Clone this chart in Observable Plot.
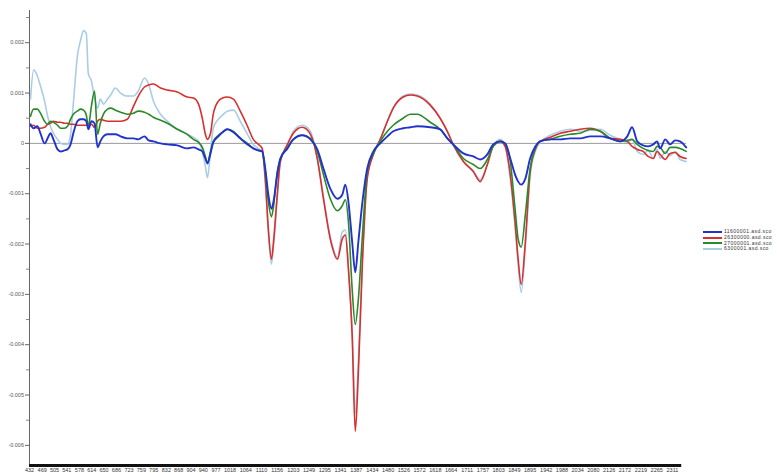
<!DOCTYPE html>
<html>
<head>
<meta charset="utf-8">
<script src="https://cdn.jsdelivr.net/npm/d3@7"></script>
<script src="https://cdn.jsdelivr.net/npm/@observablehq/plot@0.6"></script>
<style>
  html, body { margin: 0; padding: 0; background: #fff; }
  #wrap { position: relative; width: 777px; height: 473px; overflow: hidden; }
  #legend { position: absolute; left: 703px; top: 229px; font-family: "Liberation Sans", Arial, sans-serif; font-size: 5px; letter-spacing: 0.45px; color: #333; line-height: 5.8px; }
  #legend .row { display: flex; align-items: center; height: 5.8px; white-space: nowrap; }
  #legend .sw { width: 19px; height: 2px; margin-right: 2px; }
</style>
</head>
<body>
<div id="wrap"><div id="legend"></div></div>
<script>
const wavelengths = [
  435,444,455,464,476,485,493,502,514,523,
  534,543,552,560,572,581,590,598,604,613,
  622,631,639,648,660,669,683,698,718,736,
  750,768,780,794,815,835,864,893,911,926,
  937,946,952,961,969,984,996,1010,1028,1048,
  1069,1086,1101,1112,1121,1130,1139,1145,1156,1165,
  1186,1203,1229,1253,1273,1291,1311,1332,1346,1355,
  1364,1375,1384,1393,1405,1419,1437,1457,1478,1495,
  1524,1545,1565,1603,1632,1653,1670,1700,1729,1749,
  1770,1787,1808,1822,1837,1851,1860,1869,1881,1895,
  1910,1924,1954,1983,2012,2041,2071,2100,2129,2158,
  2179,2193,2208,2225,2240,2255,2266,2275,2290,2304,
  2319,2333,2351
];

const s11600001 = [
  0.00038,0.0003,0.00034,0.0002,0,0.0001,0.0002,0.00008,-0.00012,-0.00016,
  -0.00014,-0.00012,-0.00002,0.0002,0.00044,0.00048,0.00048,0.00044,0.00028,0.00044,
  0.0004,-0.00008,0.00004,0.00014,0.00018,0.00018,0.00018,0.00014,0.0001,0.0001,
  0.00008,0.00014,0.00006,0.00004,0,-0.00002,-0.00004,-0.0001,-0.00008,-0.00012,
  -0.00016,-0.0003,-0.0004,-0.0002,0.00002,0.00014,0.00022,0.00028,0.00022,0.0001,
  -0.00002,-0.0001,-0.00014,-0.00016,-0.0005,-0.00102,-0.0013,-0.00116,-0.00062,-0.0003,
  -0.0001,0.00008,0.00016,0.00008,-0.00012,-0.0005,-0.0009,-0.0011,-0.00102,-0.00082,
  -0.00116,-0.00196,-0.00256,-0.00196,-0.00116,-0.0005,-0.00016,0,0.00014,0.00024,
  0.0003,0.00032,0.00034,0.00032,0.00028,0.0001,-0.00002,-0.0002,-0.00026,-0.00032,
  -0.00022,-0.00002,0.00004,0,-0.0003,-0.00062,-0.00076,-0.00082,-0.0007,-0.0003,
  -0.00006,0.00004,0.00008,0.00008,0.0001,0.0001,0.00014,0.00014,0.0001,0.00004,
  0.00014,0.00032,0.00004,-0.00004,-0.00006,-0.00002,0.00004,-0.0001,0.00008,-0.00002,
  0.00006,0.00004,-0.00008
];

const s26300000 = [
  0.00034,0.00036,0.0003,0.0003,0.00032,0.00038,0.0004,0.00044,0.00042,0.00042,
  0.0004,0.0004,0.00038,0.00038,0.00036,0.00036,0.00036,0.00036,0.00036,0.00038,
  0.00032,0.00044,0.00048,0.00046,0.00044,0.00044,0.00044,0.00044,0.00048,0.00074,
  0.00094,0.00112,0.00116,0.00118,0.0011,0.00106,0.00102,0.00092,0.0009,0.00078,
  0.0005,0.00018,0.00008,0.0002,0.00058,0.00084,0.0009,0.00092,0.00088,0.00064,
  0.00034,0.00008,-0.00002,-0.0001,-0.0007,-0.0017,-0.0023,-0.00196,-0.00102,-0.00036,
  -0.00002,0.0002,0.00032,0.00018,-0.0003,-0.0011,-0.0019,-0.0023,-0.0019,-0.00182,
  -0.0025,-0.00382,-0.00572,-0.00456,-0.00236,-0.0007,-0.00022,0.00008,0.00044,0.0007,
  0.00092,0.00096,0.00094,0.00076,0.0005,0.00024,-0.00002,-0.00036,-0.00056,-0.00076,
  -0.00042,-0.00006,0.00004,-0.00006,-0.00062,-0.00156,-0.0023,-0.0028,-0.00196,-0.00056,
  -0.00012,0.00004,0.00012,0.0002,0.00024,0.00028,0.0003,0.00024,0.0001,0.00008,
  0.00004,-0.00006,-0.00012,-0.00016,-0.00026,-0.0003,-0.00016,-0.00022,-0.00032,-0.0002,
  -0.00018,-0.00026,-0.0003
];

const s27000001 = [
  0.00054,0.00068,0.00068,0.0006,0.00044,0.00038,0.00044,0.00042,0.00036,0.0003,
  0.0003,0.00034,0.00048,0.00058,0.00064,0.00068,0.00066,0.00056,0.00034,0.00074,
  0.00104,0.00018,0.0004,0.00058,0.00068,0.0007,0.00066,0.00062,0.00058,0.0006,
  0.00064,0.00062,0.00058,0.00052,0.00046,0.0004,0.00028,0.00018,0.00008,0.00002,
  -0.00008,-0.00026,-0.0004,-0.00016,0.00004,0.00016,0.00022,0.00028,0.00024,0.0001,
  0,-0.0001,-0.00014,-0.00016,-0.00056,-0.00116,-0.00146,-0.00126,-0.00056,-0.00032,
  -0.00008,0.00008,0.00016,0.0001,-0.00016,-0.00062,-0.0011,-0.00134,-0.00124,-0.00112,
  -0.00156,-0.0029,-0.0036,-0.0031,-0.00182,-0.00056,-0.0002,0.00004,0.00024,0.00036,
  0.0005,0.00058,0.00058,0.00042,0.00028,0.0001,-0.00002,-0.0003,-0.00042,-0.0005,
  -0.00032,-0.00006,0.00004,0,-0.00036,-0.0013,-0.0019,-0.00206,-0.00142,-0.0005,
  -0.0001,0.00004,0.00008,0.00014,0.00018,0.0002,0.00028,0.00024,0.0001,0.00004,
  0.00006,0.00008,-0.00002,-0.0001,-0.00014,-0.00016,-0.00006,-0.00008,-0.0002,-0.00008,
  -0.00008,-0.0001,-0.00016
];

const s6300001 = [
  0.00088,0.00146,0.00134,0.00114,0.00084,0.00054,0.00034,0.0002,0.00008,0,
  -0.00002,-0.00002,0.00018,0.00078,0.00174,0.00204,0.00224,0.00218,0.00138,0.00124,
  0.0009,0.0007,0.00088,0.00078,0.00088,0.00096,0.0011,0.001,0.00094,0.00094,
  0.00104,0.0013,0.00118,0.00084,0.00058,0.00044,0.00028,0.00018,0.00012,0.00004,
  -0.00016,-0.00046,-0.00068,-0.00016,0.0003,0.00048,0.00056,0.00064,0.00066,0.00044,
  0.00018,-0.00002,-0.0001,-0.00016,-0.00076,-0.00176,-0.0024,-0.00206,-0.0011,-0.00036,
  -0.00002,0.00024,0.00036,0.00024,-0.0003,-0.00106,-0.00186,-0.00226,-0.00176,-0.00172,
  -0.00246,-0.00376,-0.00536,-0.00436,-0.00226,-0.00066,-0.0002,0.00008,0.00044,0.0007,
  0.00094,0.00098,0.00096,0.00078,0.0005,0.00024,-0.00002,-0.00036,-0.00056,-0.00072,
  -0.00042,-0.00006,0.00008,-0.00006,-0.0007,-0.00166,-0.0024,-0.00296,-0.00206,-0.00066,
  -0.00016,0.00002,0.00016,0.00024,0.00028,0.00024,0.00026,0.00028,0.00016,0.00008,
  0.00002,0.00008,-0.00016,-0.00022,-0.00014,-0.0003,-0.00012,-0.0003,-0.00016,-0.00024,
  -0.00016,-0.00032,-0.00036
];

const seriesNames = ["11600001.asd.sco", "26300000.asd.sco", "27000001.asd.sco", "6300001.asd.sco"];
const seriesColors = ["#2233cc", "#d8302c", "#2a8a2a", "#a9cde8"];
const seriesValues = [s11600001, s26300000, s27000001, s6300001];

const xTickLabels = [432,469,505,541,578,614,650,686,723,759,795,832,868,904,940,977,1018,1064,1110,1156,1203,1249,1295,1341,1387,1434,1480,1526,1572,1618,1664,1711,1757,1803,1849,1895,1942,1988,2034,2080,2126,2172,2219,2265,2311];
const yMajorTicks = [0.002, 0.001, 0, -0.001, -0.002, -0.003, -0.004, -0.005, -0.006];
const yMinorTicks = [0.0025, 0.0015, 0.0005, -0.0005, -0.0015, -0.0025, -0.0035, -0.0045, -0.0055];

const xDomain = [432, 2352];
const yDomain = [-0.0064, 0.00264];

const rows = [];
seriesValues.forEach((vals, si) => {
  vals.forEach((v, i) => {
    if (wavelengths[i] !== undefined) rows.push({series: seriesNames[si], wl: wavelengths[i], v});
  });
});
const drawOrder = [3, 1, 2, 0];

const fmt = d => d === 0 ? "0" : (d < 0 ? "-" : "") + Math.abs(d).toFixed(3);

const chart = Plot.plot({
  width: 777,
  height: 473,
  marginLeft: 29,
  marginRight: 91,
  marginTop: 10,
  marginBottom: 8,
  style: {fontFamily: "'Liberation Sans', Arial, sans-serif", fontSize: "5.5px", color: "#444", background: "#fff"},
  x: {domain: xDomain, axis: null},
  y: {domain: yDomain, axis: null},
  marks: [
    Plot.ruleY([0], {stroke: "#9a9a9a", strokeWidth: 1}),
    Plot.ruleX([xDomain[0]], {stroke: "#666", strokeWidth: 1}),
    ...drawOrder.map(si => Plot.line(rows.filter(r => r.series === seriesNames[si]), {
      x: "wl", y: "v", stroke: seriesColors[si], strokeWidth: si === 0 ? 1.9 : 1.6, curve: "monotone-x"
    })),
    Plot.ruleY([yDomain[0]], {x1: xDomain[0], x2: 2338, stroke: "#111", strokeWidth: 3}),
    Plot.axisY(yMajorTicks, {label: null, tickSize: 4, tickPadding: 1.5, tickFormat: fmt, stroke: "#666", fill: "#555"}),
    Plot.axisY(yMinorTicks, {label: null, tickSize: 3, stroke: "#888", text: null}),
    Plot.axisX(xTickLabels, {label: null, tickSize: 0, tickPadding: 2.5, tickFormat: d => String(d), fill: "#333"})
  ]
});

const wrap = document.getElementById("wrap");
wrap.insertBefore(chart, wrap.firstChild);

const legend = document.getElementById("legend");
seriesNames.forEach((name, i) => {
  const row = document.createElement("div");
  row.className = "row";
  const sw = document.createElement("span");
  sw.className = "sw";
  sw.style.background = seriesColors[i];
  const t = document.createElement("span");
  t.textContent = name;
  row.appendChild(sw);
  row.appendChild(t);
  legend.appendChild(row);
});
</script>
</body>
</html>
